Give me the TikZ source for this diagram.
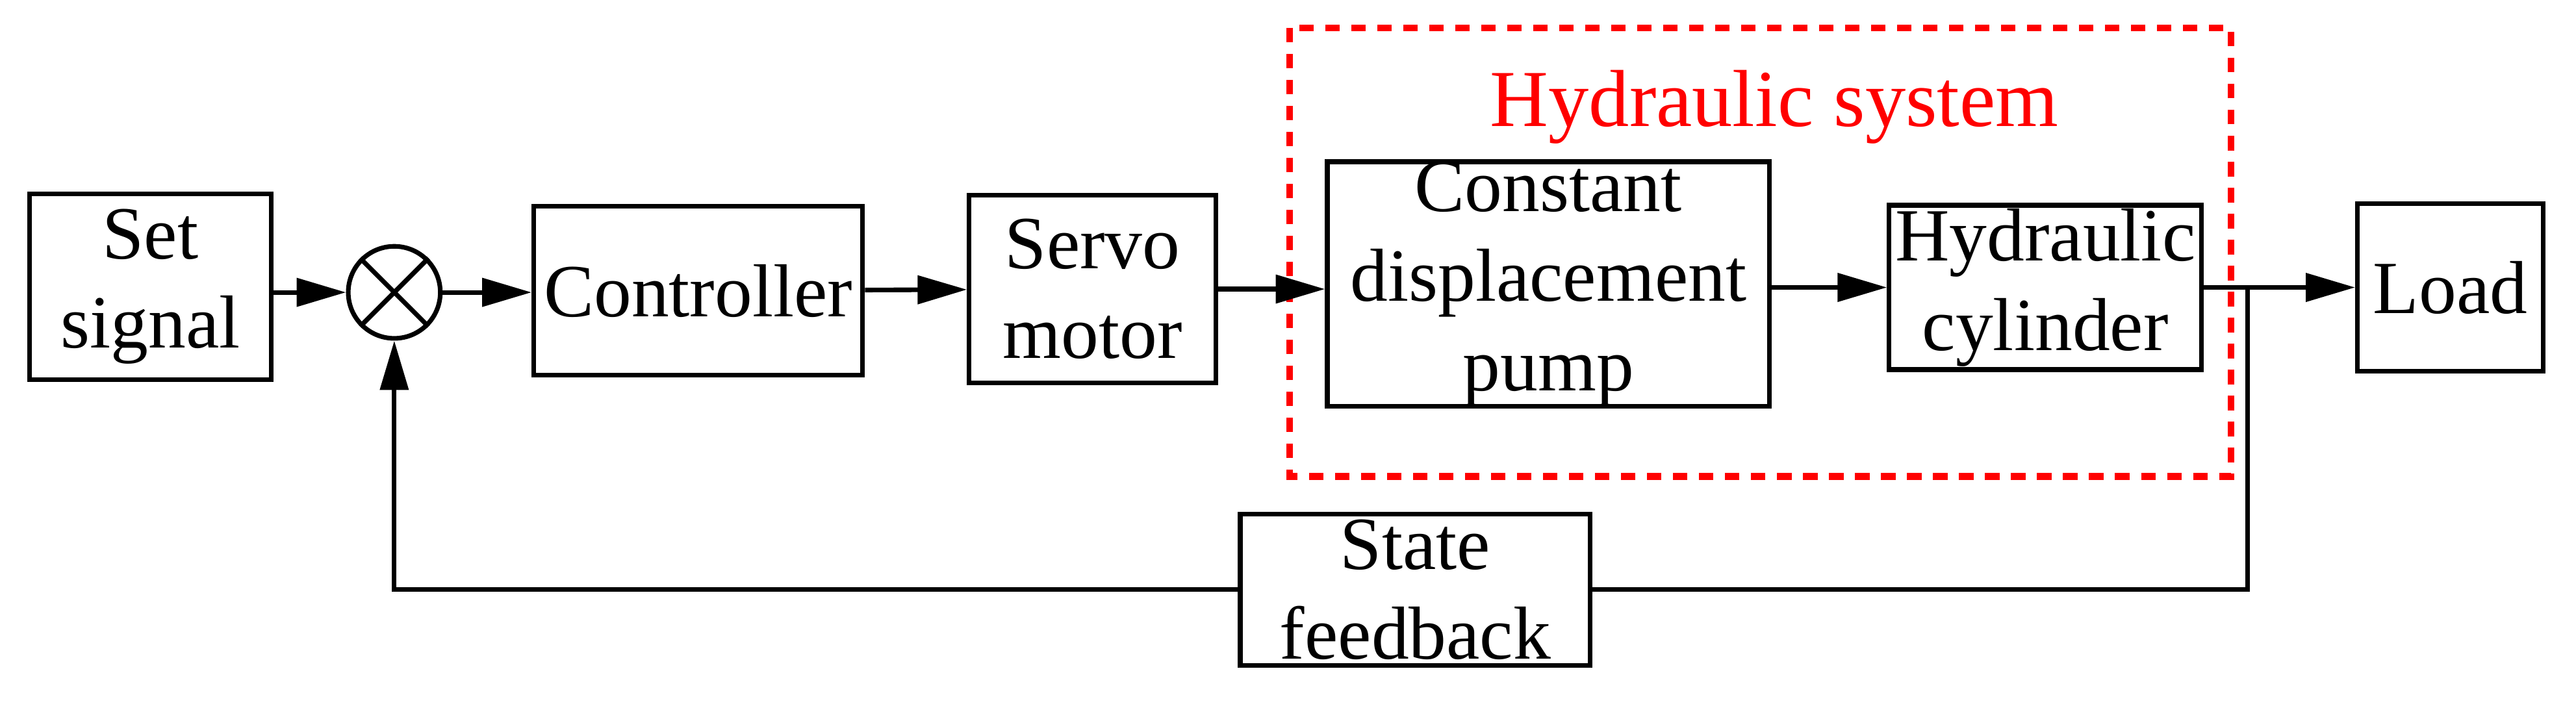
\documentclass[tikz,border=0pt]{standalone}
\usepackage{fontspec}
\setmainfont{Liberation Serif}
\usetikzlibrary{arrows.meta,positioning,shapes}

\begin{document}
\begin{tikzpicture}[x=0.01cm,y=-0.01cm,
  block/.style={draw, line width=0.8pt, align=center, inner sep=0pt,
                font=\fontsize{13}{15.5}\selectfont},
  line/.style={line width=0.8pt},
  arr/.style={line, -{Triangle[length=0.3cm,width=0.17cm]}}]
\useasboundingbox (0,0) rectangle (1568,431);
% Blocks of the forward path
\node[block, minimum width=1.47cm, minimum height=1.13cm] (set) at (91.5,174.5) {Set\\signal};
\node[draw, circle, line width=0.8pt, minimum size=0.56cm, inner sep=0pt] (sum) at (240,178) {};
\draw[line] (sum.45) -- (sum.225) (sum.135) -- (sum.315);
\node[block, minimum width=2cm, minimum height=1.03cm] (ctrl) at (425,177) {Controller};
\node[block, minimum width=1.5cm, minimum height=1.14cm] (servo) at (665,176) {Servo\\motor};
\node[block, minimum width=2.69cm, minimum height=1.45cm] (pump) at (942.5,173) {Constant\\displacement\\pump};
\node[block, minimum width=1.9cm, minimum height=1cm] (cyl) at (1245,175) {Hydraulic\\cylinder};
\node[block, minimum width=1.13cm, minimum height=1.02cm] (load) at (1491.5,175) {Load};
\node[block, minimum width=2.13cm, minimum height=0.92cm] (fb) at (861.5,359) {State\\feedback};

% Hydraulic system frame
\draw[red, line width=1.2pt, dash pattern=on 2.5pt off 2pt] (785,17) rectangle (1358,290);
\node[red, font=\fontsize{14}{16}\selectfont] (hyd) at (1080,65) {Hydraulic system};

% Connectors
\draw[arr] (set.east |- sum) -- (sum);
\draw[arr] (sum) -- (sum -| ctrl.west);
\draw[arr] (ctrl) -- (servo);
\draw[arr] (servo.east) -- (servo.east -| pump.west);
\draw[arr] (pump.east |- cyl) -- (cyl);
\coordinate (br) at (1368,175);
\draw[arr] (cyl) -- (load);
\draw[line] (br) |- (fb);
\draw[arr] (fb) -| (sum);
\end{tikzpicture}
\end{document}
